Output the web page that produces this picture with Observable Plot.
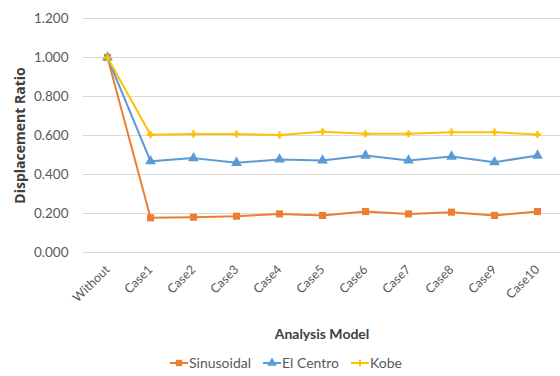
<!DOCTYPE html>
<html>
<head>
<meta charset="utf-8">
<script src="https://cdn.jsdelivr.net/npm/d3@7"></script>
<script src="https://cdn.jsdelivr.net/npm/@observablehq/plot@0.6"></script>
<style>
  body { margin: 0; background: #fff; font-family: Lato, "Open Sans", sans-serif; }
  #chart { width: 560px; }
  .legend { display: flex; justify-content: center; gap: 12px; font-size: 14px; color: #595959; padding-left: 12px; margin-top: 4px; }
  .legend .item { display: flex; align-items: center; gap: 1px; }
</style>
</head>
<body>
<div id="chart"></div>
<script>
// Analysis models along the x axis
const categories = ["Without", "Case1", "Case2", "Case3", "Case4", "Case5", "Case6", "Case7", "Case8", "Case9", "Case10"];

// Displacement ratio per ground motion
const sinusoidal = [1.000, 0.178, 0.181, 0.186, 0.198, 0.190, 0.210, 0.198, 0.207, 0.190, 0.210];
const elCentro   = [1.000, 0.468, 0.484, 0.460, 0.477, 0.472, 0.497, 0.472, 0.492, 0.463, 0.497];
const kobe       = [1.000, 0.604, 0.608, 0.608, 0.602, 0.619, 0.609, 0.609, 0.617, 0.617, 0.605];

const seriesNames = ["Sinusoidal", "El Centro", "Kobe"];
const seriesColors = ["#ED7D31", "#5B9BD5", "#FFC000"];
const seriesSymbols = ["square", "triangle", "cross"];
const seriesRadius = [4, 4, 3];

const yTicks = [0, 0.2, 0.4, 0.6, 0.8, 1.0, 1.2];

const seriesValues = [sinusoidal, elCentro, kobe];
const rows = seriesNames.flatMap((name, i) =>
  categories.map((c, j) => ({series: name, model: c, value: seriesValues[i][j]}))
);

const seriesMarks = seriesNames.flatMap((name, i) => {
  const data = rows.filter(d => d.series === name);
  return [
    Plot.line(data, {x: "model", y: "value", stroke: seriesColors[i], strokeWidth: 2}),
    Plot.dot(data, {x: "model", y: "value", symbol: () => seriesSymbols[i], fill: seriesColors[i], stroke: "none", r: seriesRadius[i]})
  ];
});

const chart = Plot.plot({
  width: 560,
  height: 350,
  marginTop: 18,
  marginLeft: 83,
  marginRight: 0,
  marginBottom: 98,
  style: {fontFamily: "Lato, 'Open Sans', sans-serif", fontSize: "12px", color: "#595959", background: "#fff"},
  x: {type: "point", domain: categories, padding: 0.5, label: null},
  y: {domain: [0, 1.2], label: null},
  symbol: {type: "identity"},
  marks: [
    Plot.gridY(yTicks, {stroke: "#d9d9d9", strokeOpacity: 1}),
    Plot.axisY(yTicks, {tickFormat: d3.format(".3f"), tickSize: 0, tickPadding: 15, label: null, fontSize: 13.5}),
    Plot.axisX({tickRotate: -45, tickSize: 0, tickPadding: 15, label: null, fontSize: 12.5}),
    Plot.text(["Displacement Ratio"], {frameAnchor: "left", textAnchor: "middle", dx: -63, rotate: -90, fontWeight: "bold", fontSize: 14, fontFamily: "'Open Sans', sans-serif", fill: "#404040"}),
    Plot.text(["Analysis Model"], {frameAnchor: "bottom", dy: 86, fontWeight: "bold", fontSize: 14, fill: "#404040"}),
    ...seriesMarks
  ]
});

document.getElementById("chart").appendChild(chart);

// Legend below the plot
const legend = d3.select("#chart").append("div").attr("class", "legend");
seriesNames.forEach((name, i) => {
  const item = legend.append("div").attr("class", "item");
  const svg = item.append("svg").attr("width", 18).attr("height", 10);
  svg.append("line").attr("x1", 0).attr("x2", 18).attr("y1", 5).attr("y2", 5)
    .attr("stroke", seriesColors[i]).attr("stroke-width", 2);
  svg.append("path")
    .attr("transform", "translate(9,5)")
    .attr("d", d3.symbol(
      {square: d3.symbolSquare, triangle: d3.symbolTriangle, cross: d3.symbolCross}[seriesSymbols[i]],
      Math.PI * seriesRadius[i] * seriesRadius[i] * 0.8)())
    .attr("fill", seriesColors[i]);
  item.append("span").text(name);
});
</script>
</body>
</html>
